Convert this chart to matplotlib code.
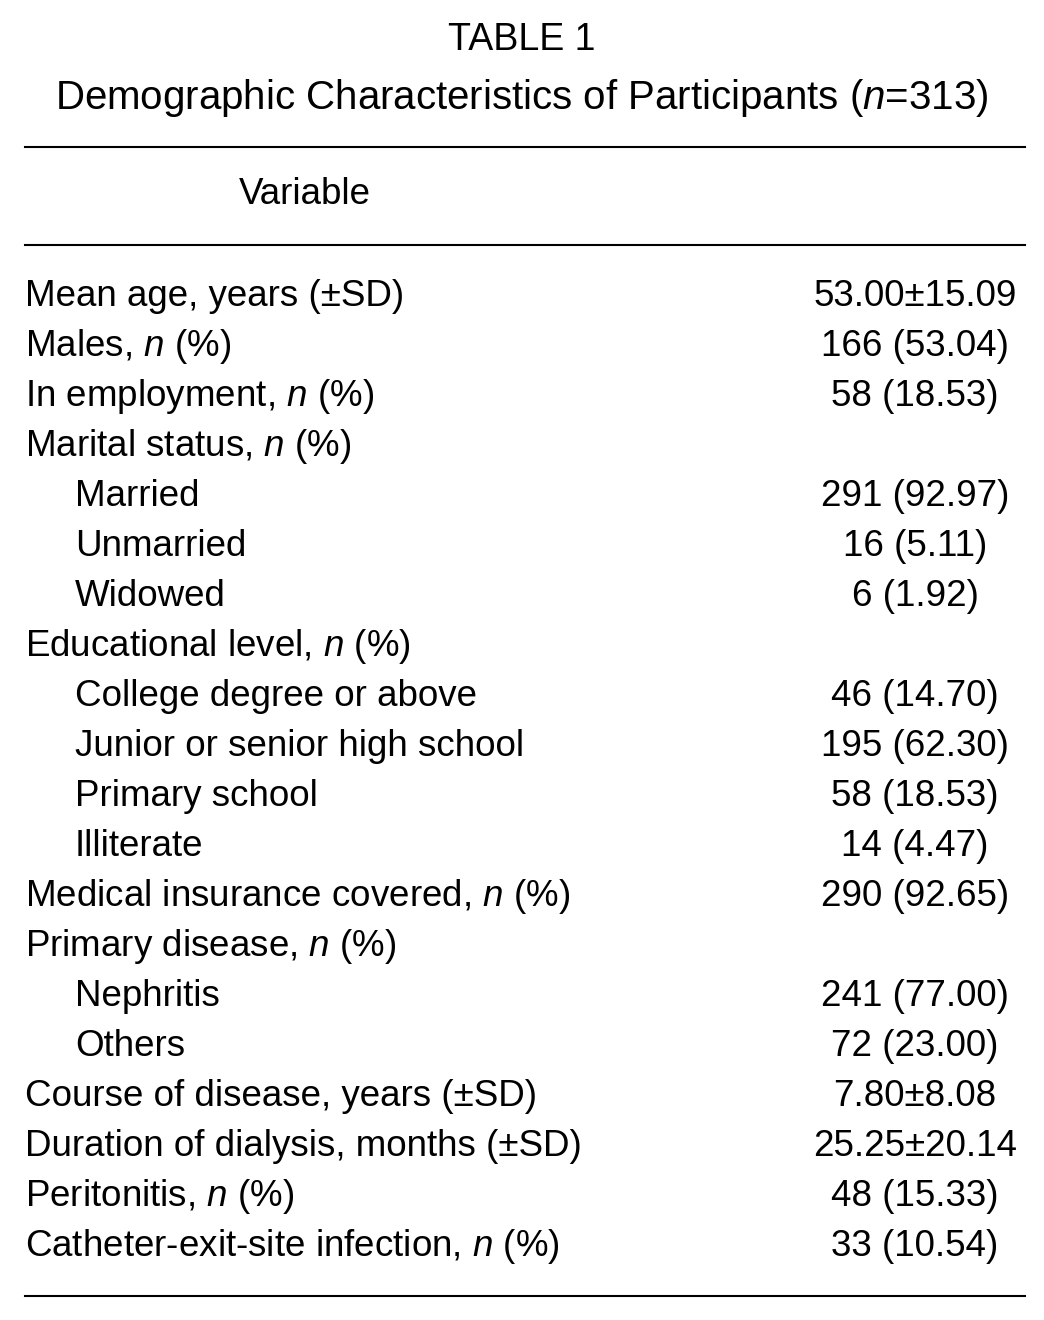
import matplotlib
matplotlib.use('Agg')
import matplotlib.pyplot as plt
from matplotlib import font_manager

# pick a condensed sans if present
names = set(f.name for f in font_manager.fontManager.ttflist)
fam = 'Liberation Sans Narrow' if 'Liberation Sans Narrow' in names else 'Liberation Sans'

plt.rcParams['font.family'] = [fam, 'DejaVu Sans']
plt.rcParams['mathtext.fontset'] = 'custom'
plt.rcParams['mathtext.rm'] = fam
plt.rcParams['mathtext.it'] = fam + ':italic'

title = 'TABLE 1'
subtitle = 'Demographic Characteristics of Participants ($n$=313)'
header = 'Variable'

labels = ['Mean age, years (±SD)', 'Males, $n$ (%)', 'In employment, $n$ (%)',
          'Marital status, $n$ (%)', 'Married', 'Unmarried', 'Widowed',
          'Educational level, $n$ (%)', 'College degree or above',
          'Junior or senior high school', 'Primary school', 'Illiterate',
          'Medical insurance covered, $n$ (%)', 'Primary disease, $n$ (%)',
          'Nephritis', 'Others', 'Course of disease, years (±SD)',
          'Duration of dialysis, months (±SD)', 'Peritonitis, $n$ (%)',
          'Catheter-exit-site infection, $n$ (%)']
indent = [0, 0, 0, 0, 1, 1, 1, 0, 1, 1, 1, 1, 0, 0, 1, 1, 0, 0, 0, 0]
values = ['53.00±15.09', '166 (53.04)', '58 (18.53)', '', '291 (92.97)',
          '16 (5.11)', '6 (1.92)', '', '46 (14.70)', '195 (62.30)',
          '58 (18.53)', '14 (4.47)', '290 (92.65)', '', '241 (77.00)',
          '72 (23.00)', '7.80±8.08', '25.25±20.14', '48 (15.33)', '33 (10.54)']

fig = plt.figure(figsize=(10.44, 13.2), dpi=100)
ax = fig.add_axes([0, 0, 1, 1])
ax.set_xlim(0, 1044)
ax.set_ylim(1320, 0)
ax.axis('off')

fs = 26.5
ax.text(522, 40, title, ha='center', va='center', fontsize=27)
ax.text(522, 98, subtitle, ha='center', va='center', fontsize=29)
ax.text(305, 195, header, ha='center', va='center', fontsize=fs)

for y in [147, 245, 1296]:
    ax.plot([25, 1025], [y, y], color='black', lw=1.5)

for i, (lab, ind, val) in enumerate(zip(labels, indent, values)):
    y = 296 + i * 50
    ax.text(25 + 50 * ind, y, lab, ha='left', va='center', fontsize=fs)
    if val:
        ax.text(915, y, val, ha='center', va='center', fontsize=fs)

fig.savefig('out.png', dpi=100)
